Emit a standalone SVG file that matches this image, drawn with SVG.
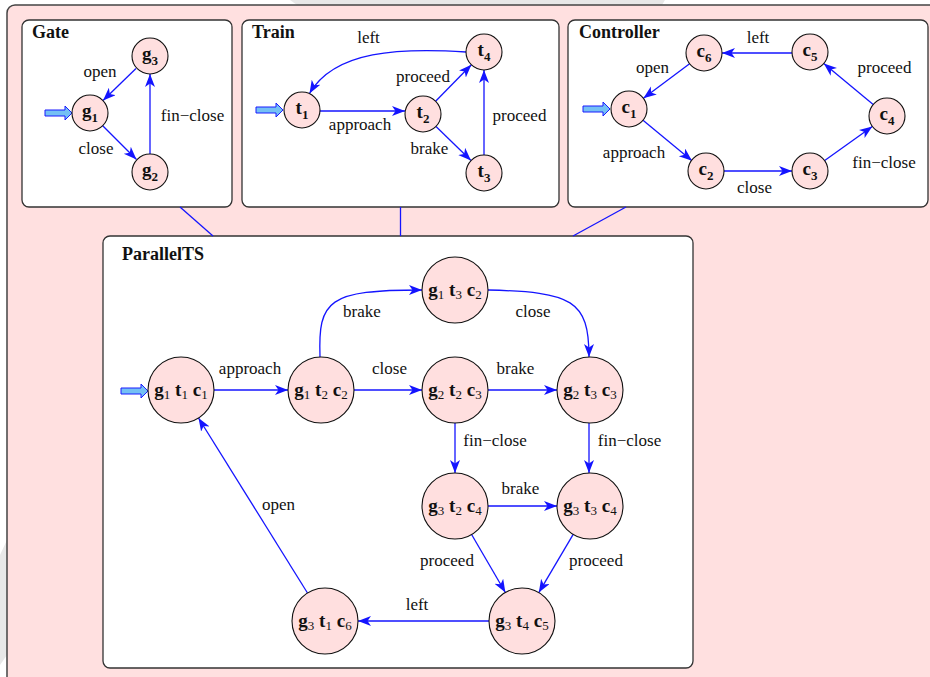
<svg xmlns="http://www.w3.org/2000/svg" xmlns:xlink="http://www.w3.org/1999/xlink" width="930" height="677" viewBox="0 0 930 677">
<style>
text{font-family:'Liberation Serif','Tinos','Nimbus Roman','DejaVu Serif',serif;fill:#111}
.lbl{font-size:17px;text-anchor:middle}
.ttl{font-size:18px;font-weight:bold}
.box{fill:#fff;stroke:#333;stroke-width:1.3}
.st{fill:#ffdfdf;stroke:#111;stroke-width:1.1}
.n{font-size:19px;font-weight:bold;text-anchor:middle}
.sb{font-size:13px}
.sn{font-size:13px;font-weight:normal}
.e{fill:none;stroke:#1414ff;stroke-width:1.3;marker-end:url(#ah)}
.l{fill:none;stroke:#1414ff;stroke-width:1.3}
.ini{fill:#74c0f4;stroke:#1a1aff;stroke-width:1}
</style>
<defs>
<marker id="ah" markerUnits="userSpaceOnUse" markerWidth="14" markerHeight="12" refX="13" refY="5" orient="auto">
<path d="M0,0 L13,5 L0,10 L3.5,5 Z" fill="#1414ff"/>
</marker>
<path id="init" d="M-27,-3 H-7 V-7 L0,0 L-7,7 V3 H-27 Z"/>
</defs>
<rect width="930" height="677" fill="#fff"/>
<polygon points="290,0 665,0 662,5 297,5" fill="#e8e8e8"/>
<polygon points="0,555 7,540 7,655 0,665" fill="#e8e8e8"/>
<rect x="7" y="5" width="950" height="700" rx="8" fill="#ffe0e0" stroke="#444" stroke-width="1.5"/>

<g id="gate-box">
<rect class="box" x="22" y="20" width="210" height="187" rx="7"/>
<text class="ttl" x="32" y="38">Gate</text>
</g>
<g id="train-box">
<rect class="box" x="242" y="20" width="317" height="187" rx="7"/>
<text class="ttl" x="252" y="38">Train</text>
</g>
<g id="controller-box">
<rect class="box" x="568" y="20" width="360" height="187" rx="7"/>
<text class="ttl" x="579" y="38">Controller</text>
</g>
<g id="parallel-box">
<rect class="box" x="103" y="236" width="590" height="432" rx="7"/>
<text class="ttl" x="122" y="260">ParallelTS</text>
</g>

<g id="connectors">
<line class="l" x1="180" y1="207" x2="213" y2="236"/>
<line class="l" x1="400.5" y1="207" x2="400.5" y2="236"/>
<line class="l" x1="626" y1="207" x2="573" y2="236"/>
<line class="e" x1="136" y1="68.5" x2="103" y2="100.5"/>
<line class="e" x1="102.7" y1="125.7" x2="136.5" y2="159.5"/>
<line class="e" x1="150" y1="154" x2="150" y2="74"/>
<line class="e" x1="320" y1="111" x2="405" y2="111"/>
<line class="e" x1="435.6" y1="101.2" x2="471.4" y2="64.8"/>
<line class="e" x1="436" y1="126.5" x2="471" y2="160.5"/>
<line class="e" x1="484" y1="155" x2="484" y2="70"/>
<path class="e" d="M466,52 C400,48 335,50 309.5,93.5"/>
<line class="e" x1="689.6" y1="63.8" x2="643.4" y2="98.2"/>
<line class="e" x1="643" y1="120.3" x2="692" y2="160.7"/>
<line class="e" x1="724" y1="171" x2="792" y2="171"/>
<line class="e" x1="824.7" y1="160.5" x2="872.3" y2="126.5"/>
<line class="e" x1="873.2" y1="104.5" x2="823.8" y2="63.5"/>
<line class="e" x1="792" y1="53" x2="722" y2="53"/>
<line class="e" x1="214" y1="390" x2="288" y2="390"/>
<line class="e" x1="354" y1="390" x2="422" y2="390"/>
<line class="e" x1="488" y1="390" x2="557" y2="390"/>
<line class="e" x1="455" y1="423" x2="455" y2="473"/>
<line class="e" x1="589" y1="423" x2="589" y2="473"/>
<line class="e" x1="488" y1="506" x2="557" y2="506"/>
<line class="e" x1="471.6" y1="534.5" x2="505.4" y2="592.5"/>
<line class="e" x1="573.2" y1="534.4" x2="538.8" y2="592.6"/>
<line class="e" x1="489" y1="621" x2="358" y2="621"/>
<line class="e" x1="307.5" y1="593" x2="198.5" y2="418"/>
<path class="e" d="M320,357 C318,300 328,290 422,290"/>
<path class="e" d="M488,290 C572,292 589,300 589,357"/>
</g>

<g id="initial-arrows">
<use xlink:href="#init" class="ini" x="72" y="113"/>
<use xlink:href="#init" class="ini" x="283" y="110"/>
<use xlink:href="#init" class="ini" x="610" y="109"/>
<use xlink:href="#init" class="ini" x="148" y="391"/>
</g>

<g id="labels">
<text class="lbl" x="100" y="77">open</text>
<text class="lbl" x="96" y="154">close</text>
<text class="lbl" x="192.5" y="121">fin−close</text>
<text class="lbl" x="368.5" y="43">left</text>
<text class="lbl" x="423" y="82">proceed</text>
<text class="lbl" x="360" y="130">approach</text>
<text class="lbl" x="429.5" y="154">brake</text>
<text class="lbl" x="519.5" y="121">proceed</text>
<text class="lbl" x="758" y="43">left</text>
<text class="lbl" x="652.5" y="73">open</text>
<text class="lbl" x="884.5" y="73">proceed</text>
<text class="lbl" x="634" y="158">approach</text>
<text class="lbl" x="754.5" y="193">close</text>
<text class="lbl" x="884" y="168">fin−close</text>
<text class="lbl" x="250" y="374">approach</text>
<text class="lbl" x="362" y="317">brake</text>
<text class="lbl" x="389.5" y="374">close</text>
<text class="lbl" x="533" y="317">close</text>
<text class="lbl" x="515.5" y="374">brake</text>
<text class="lbl" x="495" y="446">fin−close</text>
<text class="lbl" x="629.5" y="446">fin−close</text>
<text class="lbl" x="520.5" y="494">brake</text>
<text class="lbl" x="447" y="566">proceed</text>
<text class="lbl" x="596" y="566">proceed</text>
<text class="lbl" x="417" y="610">left</text>
<text class="lbl" x="278.5" y="510">open</text>
</g>

<g id="g1"><circle class="st" cx="90" cy="113" r="18"/><text class="n" x="90" y="117">g<tspan class="sb" dy="5">1</tspan></text></g>
<g id="g2"><circle class="st" cx="150" cy="172" r="18"/><text class="n" x="150" y="176">g<tspan class="sb" dy="5">2</tspan></text></g>
<g id="g3"><circle class="st" cx="150" cy="56" r="18"/><text class="n" x="150" y="60">g<tspan class="sb" dy="5">3</tspan></text></g>

<g id="t1"><circle class="st" cx="302" cy="110" r="18"/><text class="n" x="302" y="114">t<tspan class="sb" dy="5">1</tspan></text></g>
<g id="t2"><circle class="st" cx="423" cy="114" r="18"/><text class="n" x="423" y="118">t<tspan class="sb" dy="5">2</tspan></text></g>
<g id="t3"><circle class="st" cx="484" cy="173" r="18"/><text class="n" x="484" y="177">t<tspan class="sb" dy="5">3</tspan></text></g>
<g id="t4"><circle class="st" cx="484" cy="52" r="18"/><text class="n" x="484" y="56">t<tspan class="sb" dy="5">4</tspan></text></g>

<g id="c1"><circle class="st" cx="629" cy="109" r="18"/><text class="n" x="629" y="113">c<tspan class="sb" dy="5">1</tspan></text></g>
<g id="c2"><circle class="st" cx="706" cy="171" r="18"/><text class="n" x="706" y="175">c<tspan class="sb" dy="5">2</tspan></text></g>
<g id="c3"><circle class="st" cx="810" cy="171" r="18"/><text class="n" x="810" y="175">c<tspan class="sb" dy="5">3</tspan></text></g>
<g id="c4"><circle class="st" cx="887" cy="116" r="18"/><text class="n" x="887" y="120">c<tspan class="sb" dy="5">4</tspan></text></g>
<g id="c5"><circle class="st" cx="810" cy="52" r="18"/><text class="n" x="810" y="56">c<tspan class="sb" dy="5">5</tspan></text></g>
<g id="c6"><circle class="st" cx="704" cy="53" r="18"/><text class="n" x="704" y="57">c<tspan class="sb" dy="5">6</tspan></text></g>

<g id="p-g1t1c1"><circle class="st" cx="181" cy="390" r="33"/><text class="n" x="181" y="396">g<tspan class="sn" dy="3">1</tspan><tspan dy="-3"> t</tspan><tspan class="sn" dy="3">1</tspan><tspan dy="-3"> c</tspan><tspan class="sn" dy="3">1</tspan></text></g>
<g id="p-g1t2c2"><circle class="st" cx="321" cy="390" r="33"/><text class="n" x="321" y="396">g<tspan class="sn" dy="3">1</tspan><tspan dy="-3"> t</tspan><tspan class="sn" dy="3">2</tspan><tspan dy="-3"> c</tspan><tspan class="sn" dy="3">2</tspan></text></g>
<g id="p-g1t3c2"><circle class="st" cx="455" cy="290" r="33"/><text class="n" x="455" y="296">g<tspan class="sn" dy="3">1</tspan><tspan dy="-3"> t</tspan><tspan class="sn" dy="3">3</tspan><tspan dy="-3"> c</tspan><tspan class="sn" dy="3">2</tspan></text></g>
<g id="p-g2t2c3"><circle class="st" cx="455" cy="390" r="33"/><text class="n" x="455" y="396">g<tspan class="sn" dy="3">2</tspan><tspan dy="-3"> t</tspan><tspan class="sn" dy="3">2</tspan><tspan dy="-3"> c</tspan><tspan class="sn" dy="3">3</tspan></text></g>
<g id="p-g2t3c3"><circle class="st" cx="590" cy="390" r="33"/><text class="n" x="590" y="396">g<tspan class="sn" dy="3">2</tspan><tspan dy="-3"> t</tspan><tspan class="sn" dy="3">3</tspan><tspan dy="-3"> c</tspan><tspan class="sn" dy="3">3</tspan></text></g>
<g id="p-g3t2c4"><circle class="st" cx="455" cy="506" r="33"/><text class="n" x="455" y="512">g<tspan class="sn" dy="3">3</tspan><tspan dy="-3"> t</tspan><tspan class="sn" dy="3">2</tspan><tspan dy="-3"> c</tspan><tspan class="sn" dy="3">4</tspan></text></g>
<g id="p-g3t3c4"><circle class="st" cx="590" cy="506" r="33"/><text class="n" x="590" y="512">g<tspan class="sn" dy="3">3</tspan><tspan dy="-3"> t</tspan><tspan class="sn" dy="3">3</tspan><tspan dy="-3"> c</tspan><tspan class="sn" dy="3">4</tspan></text></g>
<g id="p-g3t4c5"><circle class="st" cx="522" cy="621" r="33"/><text class="n" x="522" y="627">g<tspan class="sn" dy="3">3</tspan><tspan dy="-3"> t</tspan><tspan class="sn" dy="3">4</tspan><tspan dy="-3"> c</tspan><tspan class="sn" dy="3">5</tspan></text></g>
<g id="p-g3t1c6"><circle class="st" cx="325" cy="621" r="33"/><text class="n" x="325" y="627">g<tspan class="sn" dy="3">3</tspan><tspan dy="-3"> t</tspan><tspan class="sn" dy="3">1</tspan><tspan dy="-3"> c</tspan><tspan class="sn" dy="3">6</tspan></text></g>
</svg>
